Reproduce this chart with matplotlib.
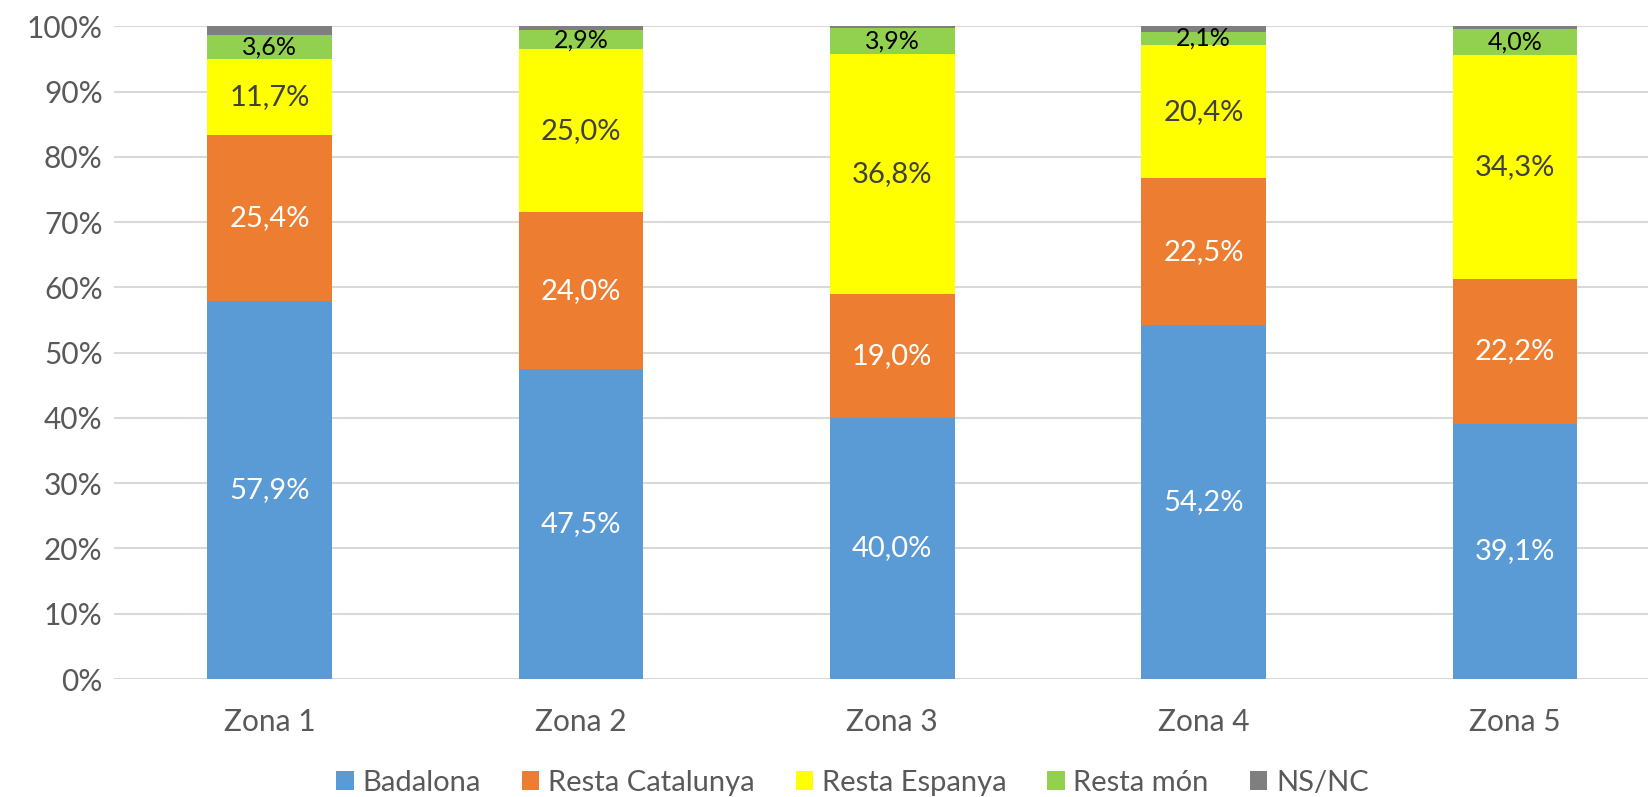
import numpy as np
import matplotlib.pyplot as plt
from matplotlib.ticker import FuncFormatter

zones      = ["Zona 1", "Zona 2", "Zona 3", "Zona 4", "Zona 5"]
badalona   = [57.9, 47.5, 40.0, 54.2, 39.1]
resta_cat  = [25.4, 24.0, 19.0, 22.5, 22.2]
resta_esp  = [11.7, 25.0, 36.8, 20.4, 34.3]
resta_mon  = [3.6, 2.9, 3.9, 2.1, 4.0]
ns_nc      = [1.4, 0.6, 0.3, 0.8, 0.4]

series = [
    ("Badalona",        badalona,  "#5B9BD5", "white",   True),
    ("Resta Catalunya", resta_cat, "#ED7D31", "white",   True),
    ("Resta Espanya",   resta_esp, "#FFFF00", "#404040", True),
    ("Resta món",       resta_mon, "#92D050", "black",   True),
    ("NS/NC",           ns_nc,     "#7F7F7F", "white",   False),
]

plt.rcParams["font.family"] = ["Lato", "DejaVu Sans"]

fig = plt.figure(figsize=(16.49, 7.97), dpi=100)
ax = fig.add_axes([0.069, 0.148, 0.931, 0.819])

x = np.arange(len(zones))
bottom = np.zeros(len(zones))
for name, vals, color, tcolor, show in series:
    vals = np.array(vals)
    ax.bar(x, vals, 0.4, bottom=bottom, color=color, label=name, zorder=3)
    if show:
        small = vals.max() < 6
        for xi, b, v in zip(x, bottom, vals):
            ax.text(xi, b + v / 2, f"{v:.1f}%".replace(".", ","),
                    ha="center", va="center", color=tcolor,
                    fontsize=18 if small else 21, zorder=4)
    bottom += vals

ax.set_ylim(0, 100)
ax.set_xlim(-0.5, 4.43)
ax.set_yticks(np.arange(0, 101, 10))
ax.yaxis.set_major_formatter(FuncFormatter(lambda v, p: f"{v:.0f}%"))
ax.set_xticks(x)
ax.set_xticklabels(zones)
ax.tick_params(axis="both", length=0, labelsize=21.5, colors="#595959")
ax.tick_params(axis="x", pad=21)
ax.tick_params(axis="y", pad=8)
ax.grid(axis="y", color="#D9D9D9", linewidth=1.5, zorder=0)
for s in ax.spines.values():
    s.set_visible(False)

fig.legend(loc="center", bbox_to_anchor=(0.517, 0.018), ncol=5, frameon=False,
           fontsize=21, handlelength=0.6, handleheight=0.6, handletextpad=0.3,
           columnspacing=1.4, labelcolor="#595959")

plt.savefig("out.png", dpi=100)
